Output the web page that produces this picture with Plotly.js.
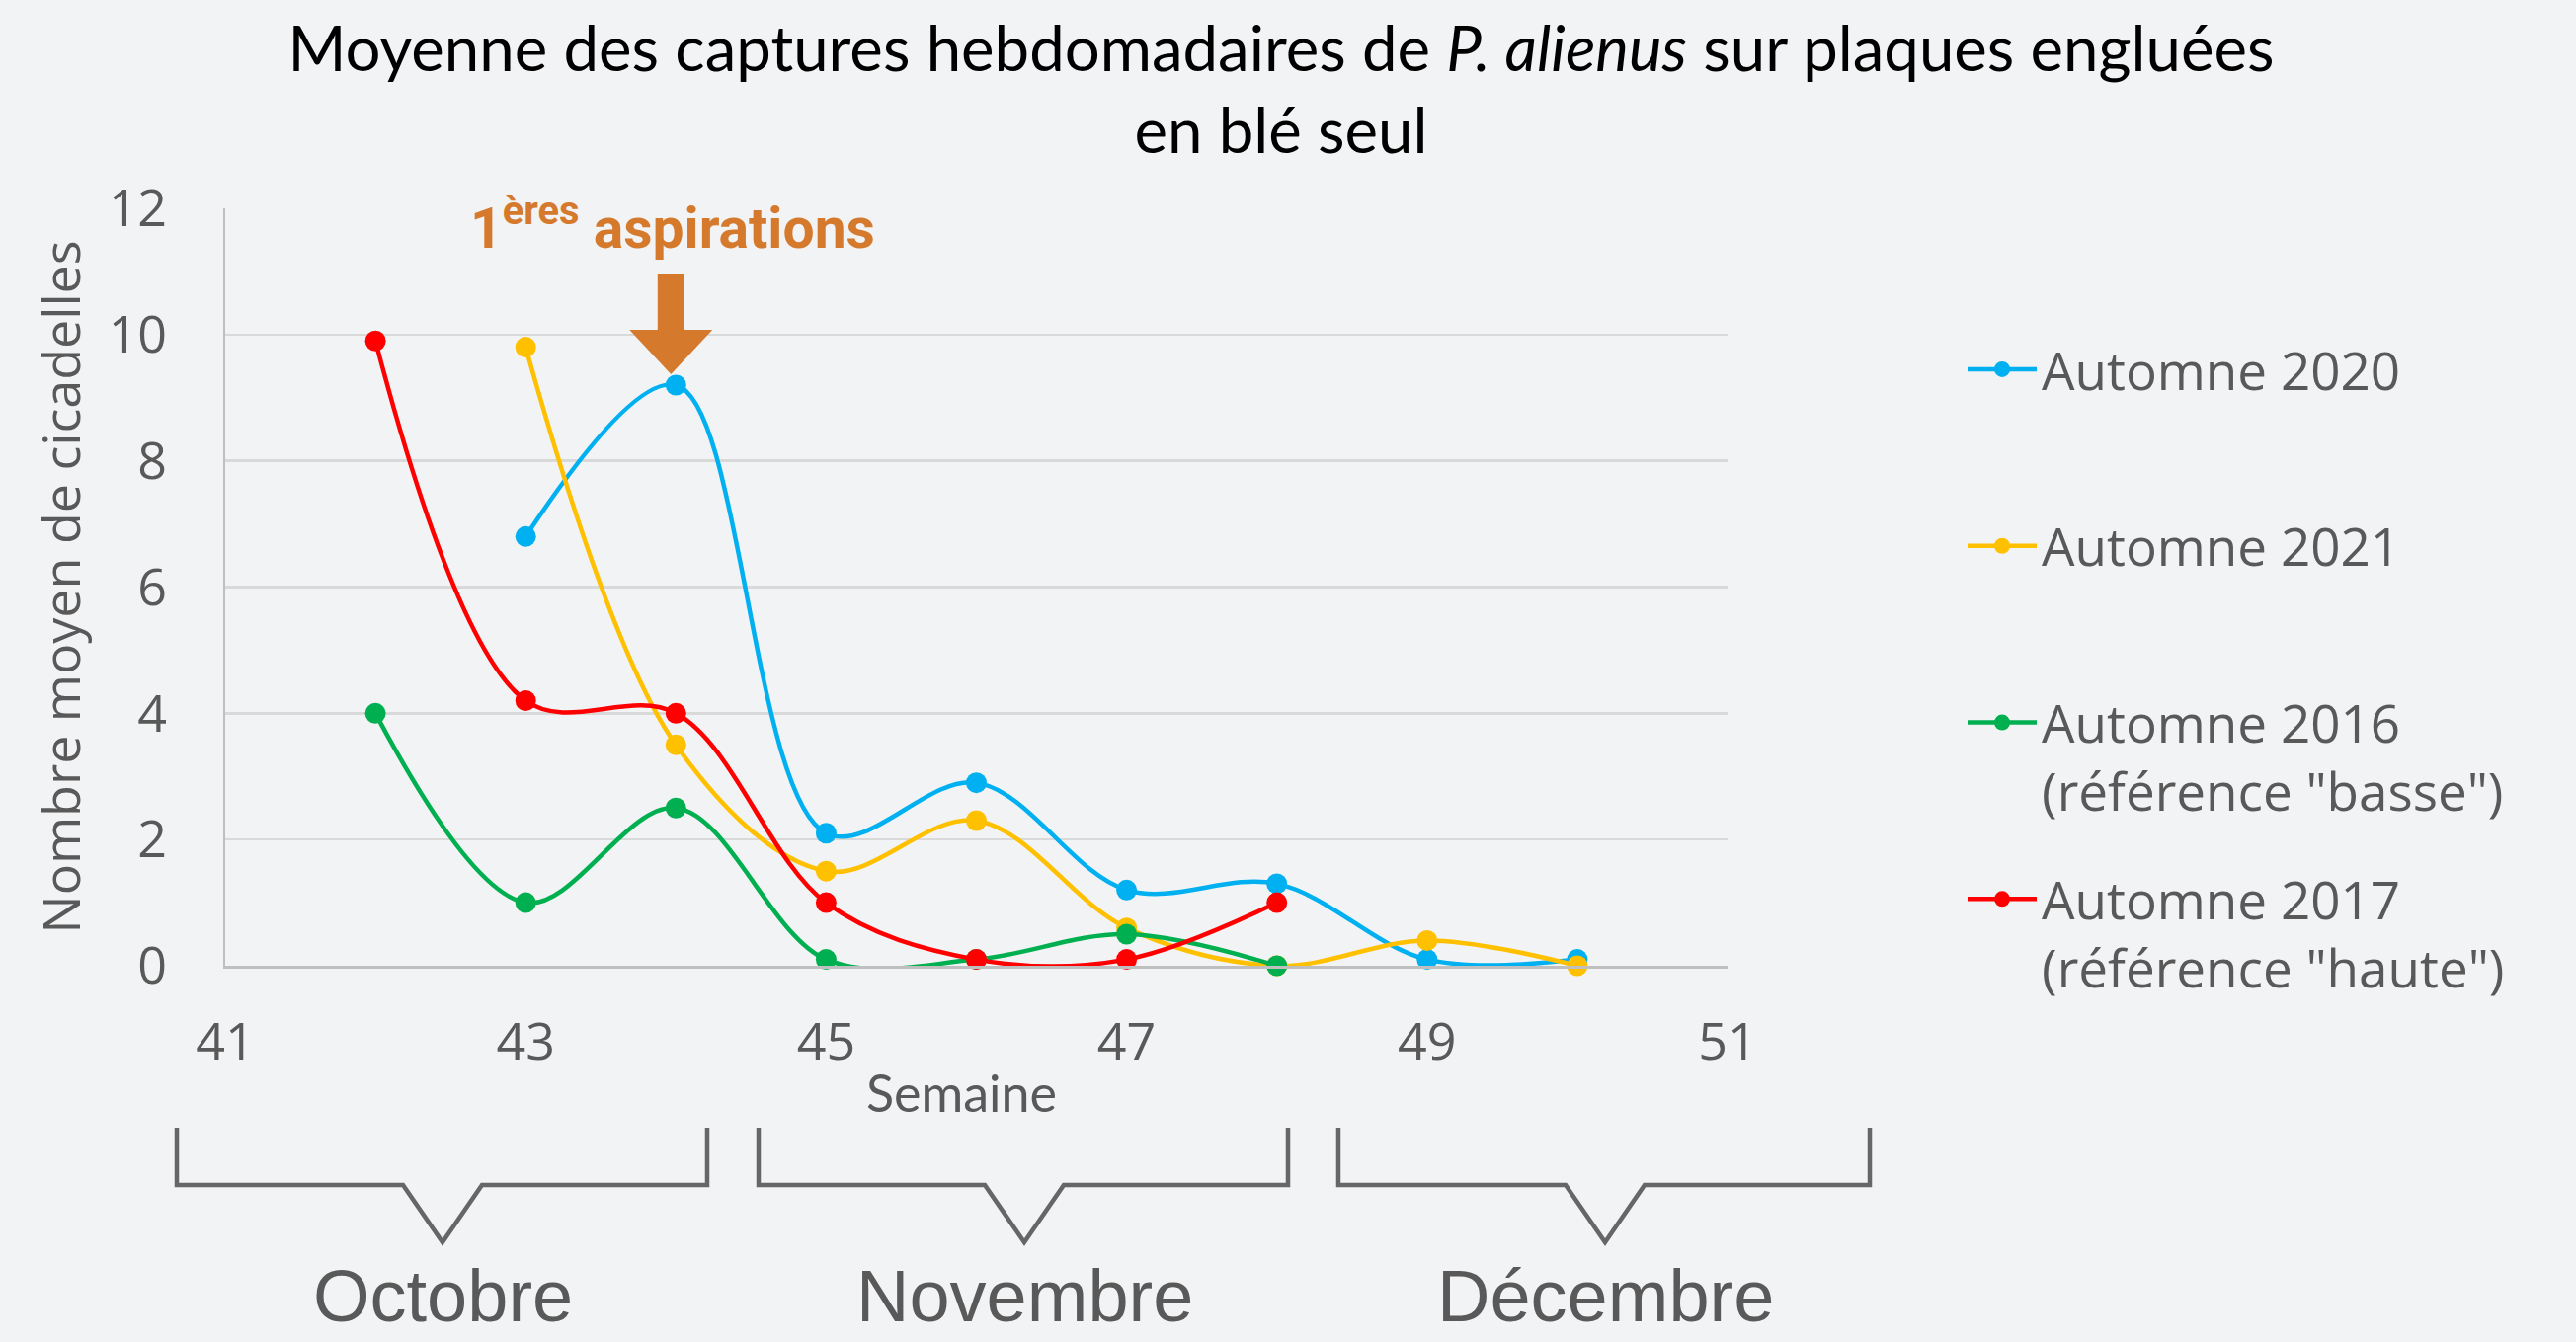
<!DOCTYPE html>
<html>
<head>
<meta charset="utf-8">
<script src="https://cdn.plot.ly/plotly-3.0.1.min.js"></script>
<style>
  html, body { margin: 0; padding: 0; background: #f2f3f5; }
  #chart { width: 2608px; height: 1359px; }
</style>
</head>
<body>
<div id="chart"></div>
<script>
// ---- Data ----
const weeks2020 = [43, 44, 45, 46, 47, 48, 49, 50];
const values2020 = [6.8, 9.2, 2.1, 2.9, 1.2, 1.3, 0.1, 0.1];

const weeks2021 = [43, 44, 45, 46, 47, 48, 49, 50];
const values2021 = [9.8, 3.5, 1.5, 2.3, 0.6, 0.0, 0.4, 0.0];

const weeks2016 = [42, 43, 44, 45, 46, 47, 48];
const values2016 = [4.0, 1.0, 2.5, 0.1, 0.1, 0.5, 0.0];

const weeks2017 = [42, 43, 44, 45, 46, 47, 48];
const values2017 = [9.9, 4.2, 4.0, 1.0, 0.1, 0.1, 1.0];

const seriesNames = [
  "Automne 2020<br> ",
  "Automne 2021<br> ",
  "Automne 2016<br>(référence \"basse\")",
  "Automne 2017<br>(référence \"haute\")"
];
const seriesColors = ["#00b0f0", "#ffc000", "#00b050", "#ff0000"];

const xTickVals = [41, 43, 45, 47, 49, 51];
const yTickVals = [0, 2, 4, 6, 8, 10, 12];

const monthLabels = ["Octobre", "Novembre", "Décembre"];
const firstAspirationWeek = 44;

// ---- Layout geometry ----
const W = 2608, H = 1359;
const M = { l: 228, r: 859, t: 211, b: 381 };
const plotW = W - M.l - M.r, plotH = H - M.t - M.b;
const px2x = p => (p - M.l) / plotW;        // pixel -> paper x
const py2y = p => (H - M.b - p) / plotH;     // pixel -> paper y

const xs = [weeks2020, weeks2021, weeks2016, weeks2017];
const ys = [values2020, values2021, values2016, values2017];

const traces = xs.map((x, i) => ({
  type: "scatter",
  mode: "lines+markers",
  x: x,
  y: ys[i],
  name: seriesNames[i],
  legendgroup: "g" + i,
  line: { color: seriesColors[i], width: 4.5, shape: "spline", smoothing: 1 },
  marker: { color: seriesColors[i], size: 21 },
  cliponaxis: false
}));

// Bracket shapes (pixel geometry converted to paper)
const brackets = [
  { l: 179, r: 716, c: 448 },
  { l: 768, r: 1304, c: 1037 },
  { l: 1355, r: 1893, c: 1625 }
];
const bTop = 1142, bBar = 1200, bTip = 1258, notchHalf = 40;
const shapes = brackets.map(b => ({
  type: "path",
  xref: "paper", yref: "paper",
  path: `M${px2x(b.l)},${py2y(bTop)} L${px2x(b.l)},${py2y(bBar)} L${px2x(b.c - notchHalf)},${py2y(bBar)} L${px2x(b.c)},${py2y(bTip)} L${px2x(b.c + notchHalf)},${py2y(bBar)} L${px2x(b.r)},${py2y(bBar)} L${px2x(b.r)},${py2y(bTop)}`,
  line: { color: "#666666", width: 4.5 },
  fillcolor: "rgba(0,0,0,0)"
}));

// Orange arrow in data coordinates
const wPx = plotW / 10, vPx = plotH / 12;
const ax0 = firstAspirationWeek - 5 / wPx;
const shaftHalf = 13.5 / wPx, headHalf = 42 / wPx;
const yTop = (H - M.b - 277) / vPx, yHead = (H - M.b - 334) / vPx, yTipA = (H - M.b - 379) / vPx;
shapes.push({
  type: "path", xref: "x", yref: "y",
  path: `M${ax0 - shaftHalf},${yTop} L${ax0 + shaftHalf},${yTop} L${ax0 + shaftHalf},${yHead} L${ax0 + headHalf},${yHead} L${ax0},${yTipA} L${ax0 - headHalf},${yHead} L${ax0 - shaftHalf},${yHead} Z`,
  fillcolor: "#d57a2d",
  line: { width: 0 },
  layer: "above"
});

const annotations = monthLabels.map((m, i) => ({
  text: m,
  xref: "paper", yref: "paper",
  x: px2x(brackets[i].c), y: py2y(1312),
  xanchor: "center", yanchor: "middle",
  showarrow: false,
  font: { family: "Liberation Sans, Arial, sans-serif", size: 74, color: "#595959" }
}));
annotations.push({
  text: "1<sup>ères</sup> aspirations",
  xref: "x", yref: "paper",
  x: firstAspirationWeek - 3 / wPx, y: py2y(228),
  xanchor: "center", yanchor: "middle",
  showarrow: false,
  font: { family: "Roboto, sans-serif", size: 57, color: "#d57a2d", weight: 700 }
});
annotations.push({
  text: "Semaine",
  xref: "paper", yref: "paper",
  x: px2x(973), y: py2y(1106),
  xanchor: "center", yanchor: "middle",
  showarrow: false,
  font: { family: "Lato, sans-serif", size: 52, color: "#595959" }
});

const layout = {
  width: W, height: H,
  paper_bgcolor: "#f2f3f5",
  plot_bgcolor: "#f2f3f5",
  margin: M,
  title: {
    text: "Moyenne des captures hebdomadaires de <i>P. alienus</i> sur plaques engluées<br>en blé seul",
    xref: "container", yref: "container",
    x: 1297 / W, xanchor: "center",
    y: 1 - 72 / H, yanchor: "top",
    font: { family: "Lato, sans-serif", size: 63.5, color: "#000000" }
  },
  xaxis: {
    range: [41, 51],
    tickvals: xTickVals,
    showgrid: false,
    zeroline: false,
    showline: true, linecolor: "#bfbfbf", linewidth: 2.5,
    ticks: "",
    ticklabelstandoff: 30,
    tickfont: { family: "Open Sans, sans-serif", size: 52, color: "#595959" },
    fixedrange: true
  },
  yaxis: {
    range: [0, 12],
    tickvals: yTickVals,
    showgrid: true, gridcolor: "#d9d9d9", gridwidth: 2.5,
    zeroline: false,
    showline: true, linecolor: "#bfbfbf", linewidth: 2.5,
    ticks: "",
    ticklabelstandoff: 46,
    tickfont: { family: "Open Sans, sans-serif", size: 52, color: "#595959" },
    title: { text: "Nombre moyen de cicadelles", standoff: 12, font: { family: "Open Sans, sans-serif", size: 52, color: "#595959" } },
    fixedrange: true
  },
  showlegend: true,
  legend: {
    x: px2x(1987), xanchor: "left",
    y: py2y(333), yanchor: "top",
    bgcolor: "rgba(0,0,0,0)",
    font: { family: "Open Sans, sans-serif", size: 53, color: "#595959" },
    valign: "top",
    itemwidth: 70,
    tracegroupgap: 38,
    traceorder: "grouped"
  },
  shapes: shapes,
  annotations: annotations
};

Plotly.newPlot("chart", traces, layout, { displayModeBar: false, staticPlot: true });
</script>
</body>
</html>
